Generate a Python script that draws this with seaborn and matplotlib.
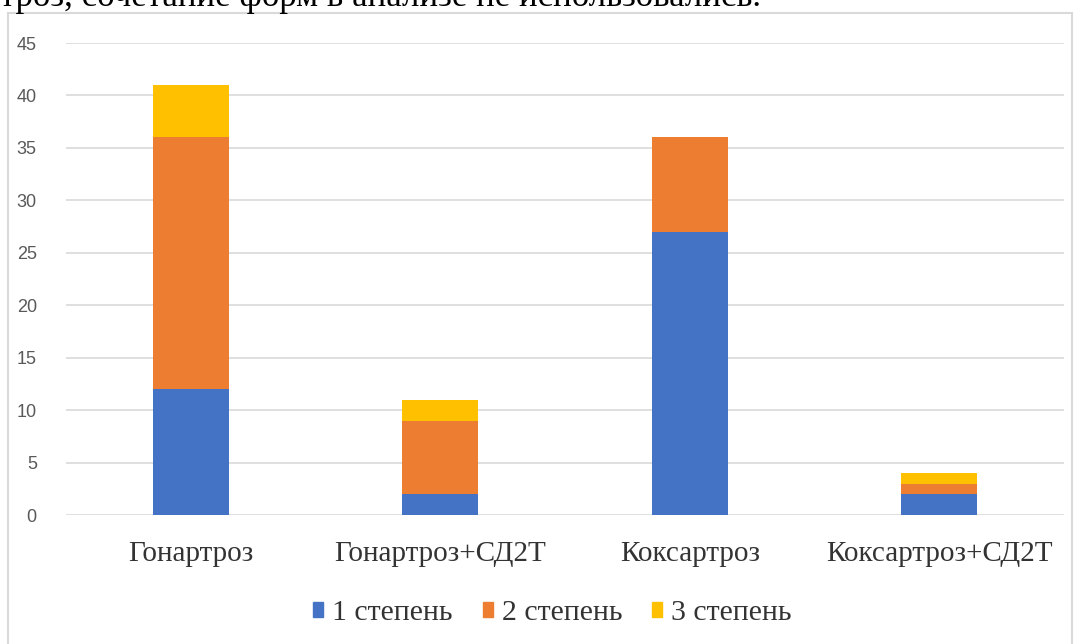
import matplotlib
matplotlib.use("Agg")
import matplotlib.pyplot as plt
import seaborn as sns
import pandas as pd
import numpy as np
from matplotlib.patches import Rectangle
from matplotlib import font_manager

categories = ["Гонартроз", "Гонартроз+СД2Т", "Коксартроз", "Коксартроз+СД2Т"]
grade1 = [12, 2, 27, 2]
grade2 = [24, 7, 9, 1]
grade3 = [5, 2, 0, 1]
series_names = ["1 степень", "2 степень", "3 степень"]
colors = ["#4472C4", "#ED7D31", "#FFC000"]
yticks = [0, 5, 10, 15, 20, 25, 30, 35, 40, 45]

sns.set_theme(style="white")
avail = {f.name for f in font_manager.fontManager.ttflist}
narrow = "Liberation Sans Narrow" if "Liberation Sans Narrow" in avail else "Liberation Sans"
plt.rcParams['font.family'] = ['Liberation Serif', 'DejaVu Serif']

fig = plt.figure(figsize=(10.75, 6.44), dpi=100)
ax = fig.add_axes([66/1075, 1-515/644, (1064-66)/1075, (515-43)/644])

df = pd.DataFrame({"cat": categories, "g1": grade1, "g2": grade2, "g3": grade3})
df["c1"] = df["g1"]
df["c2"] = df["g1"] + df["g2"]
df["c3"] = df["g1"] + df["g2"] + df["g3"]

for col, color in zip(["c3", "c2", "c1"], colors[::-1]):
    sns.barplot(data=df, x="cat", y=col, color=color, width=0.305, ax=ax,
                saturation=1, linewidth=0, zorder=3)

ax.set_ylim(0, 45)
ax.set_xlim(-0.5, 3.5)
ax.set_yticks(yticks)
ax.set_xlabel("")
ax.set_ylabel("")
ax.grid(axis="y", color="#D9D9D9", linewidth=1.2, zorder=0)
ax.grid(axis="x", visible=False)
for s in ax.spines.values():
    s.set_visible(False)
ax.tick_params(axis="y", length=0, pad=21, labelsize=13, labelcolor="#595959")
ax.tick_params(axis="x", length=0, pad=19, labelsize=21, labelcolor="#333333")
for lab in ax.get_yticklabels():
    lab.set_fontfamily(narrow)

handles = [Rectangle((0, 0), 1, 1, color=c) for c in colors]
fig.legend(handles, series_names, loc="center", bbox_to_anchor=(0.514, 1-613/644),
           ncol=3, frameon=False, fontsize=21.5, handlelength=0.34, handleheight=0.43,
           handletextpad=0.3, columnspacing=1.0, labelcolor="#333333")

# chart border
fig.add_artist(Rectangle((8/1075, -0.01), (1072-8)/1075, 1-13/644 + 0.01,
                         transform=fig.transFigure, fill=False,
                         edgecolor="#D9D9D9", linewidth=1.5))
# cut-off text above the chart (as in the source image)
fig.text(0, 1-6/644, "троз, сочетание форм в анализе не использовались.",
         fontsize=25, ha="left", va="baseline", color="black")

fig.savefig("out.png", dpi=100)
